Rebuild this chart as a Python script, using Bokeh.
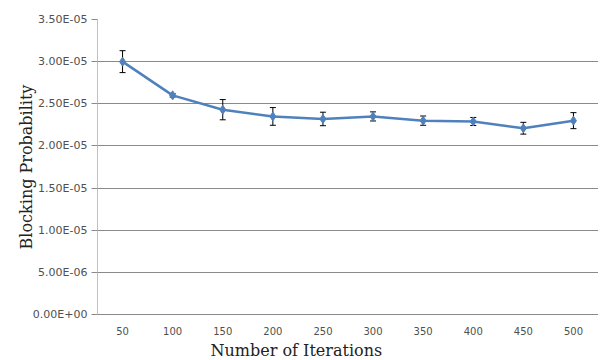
from bokeh.plotting import figure
from bokeh.models import (ColumnDataSource, FactorRange, Range1d, FixedTicker, Whisker,
                          TeeHead, Title)
from bokeh.embed import file_html
from bokeh.resources import INLINE

iterations = ["50", "100", "150", "200", "250", "300", "350", "400", "450", "500"]
blocking = [3.00e-5, 2.60e-5, 2.43e-5, 2.35e-5, 2.32e-5, 2.35e-5, 2.30e-5, 2.29e-5, 2.21e-5, 2.30e-5]
errors = [1.3e-6, 2.0e-7, 1.2e-6, 1.05e-6, 8.0e-7, 5.4e-7, 5.5e-7, 4.8e-7, 7.0e-7, 9.5e-7]
y_ticks = [0.0, 5e-6, 1e-5, 1.5e-5, 2e-5, 2.5e-5, 3e-5, 3.5e-5]
y_tick_labels = ["0.00E+00", "5.00E-06", "1.00E-05", "1.50E-05", "2.00E-05",
                 "2.50E-05", "3.00E-05", "3.50E-05"]

src = ColumnDataSource(dict(
    x=iterations, y=blocking,
    lower=[v - e for v, e in zip(blocking, errors)],
    upper=[v + e for v, e in zip(blocking, errors)],
))

p = figure(width=598, height=360, x_range=FactorRange(*iterations, range_padding=0),
           y_range=Range1d(0, 3.5e-5), output_backend="svg", toolbar_location=None,
           min_border_left=97, min_border_right=0, min_border_top=19, min_border_bottom=20)
p.outline_line_color = None
p.background_fill_color = "white"

p.xgrid.grid_line_color = None
p.ygrid.grid_line_color = "#8a8a8a"
p.ygrid.grid_line_width = 1
p.yaxis.ticker = FixedTicker(ticks=y_ticks)
p.yaxis.major_label_overrides = {t: l for t, l in zip(y_ticks, y_tick_labels)}
p.yaxis.axis_line_color = "#c0c0c0"
p.yaxis.major_tick_line_color = "#8a8a8a"
p.yaxis.major_tick_out = 6
p.yaxis.major_tick_in = 0
p.yaxis.minor_tick_line_color = None
p.yaxis.major_label_text_font = "DejaVu Sans"
p.yaxis.major_label_text_font_size = "11px"
p.yaxis.major_label_text_color = "#505050"
p.yaxis.major_label_standoff = 4
p.yaxis.axis_label = "Blocking Probability"
p.yaxis.axis_label_text_font = "DejaVu Serif"
p.yaxis.axis_label_text_font_style = "normal"
p.yaxis.axis_label_text_font_size = "16px"
p.yaxis.axis_label_text_color = "#222222"
p.yaxis.axis_label_standoff = -6

p.xaxis.axis_line_color = "#8a8a8a"
p.xaxis.major_tick_line_color = None
p.xaxis.minor_tick_line_color = None
p.xaxis.major_label_text_font = "DejaVu Sans"
p.xaxis.major_label_text_font_size = "10px"
p.xaxis.major_label_text_color = "#505050"
p.xaxis.major_label_standoff = 6

p.add_layout(Title(text="Number of Iterations", align="left", offset=113, standoff=2,
                   text_font="DejaVu Serif", text_font_size="16px",
                   text_font_style="normal", text_color="#222222"), "below")

p.line("x", "y", source=src, line_color="#4f81bd", line_width=2.5)
p.add_layout(Whisker(base="x", lower="lower", upper="upper", source=src,
                     line_color="black", line_width=1,
                     upper_head=TeeHead(size=6, line_color="black", line_width=1),
                     lower_head=TeeHead(size=6, line_color="black", line_width=1)))
p.scatter("x", "y", source=src, marker="diamond", size=9,
          fill_color="#4f81bd", line_color="#4f81bd")

open("out.html", "w").write(file_html(p, INLINE))
